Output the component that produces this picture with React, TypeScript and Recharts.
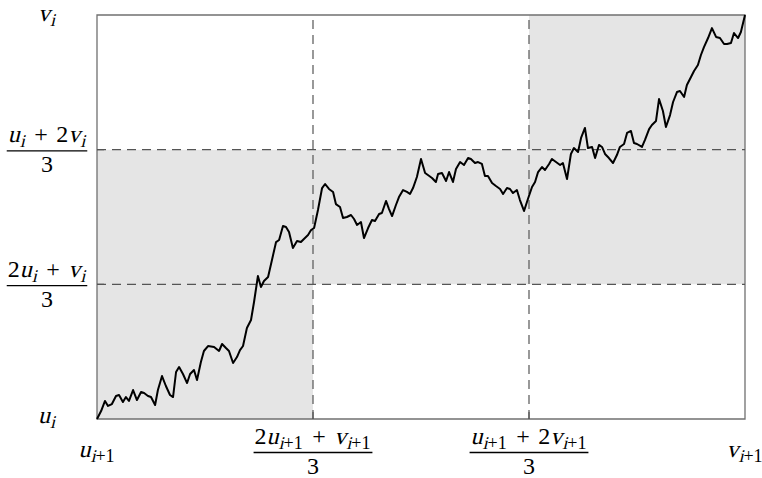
import React from 'react';
import { LineChart, Line, XAxis, YAxis, ReferenceArea, ReferenceLine } from 'recharts';

// Path position along the horizontal interval [u_{i+1}, v_{i+1}], scaled to 0..3
const pathX = [
  0, 0.019, 0.037, 0.051, 0.069, 0.088, 0.102, 0.12, 0.134, 0.148, 0.167, 0.185, 0.204, 0.218, 0.236, 0.25,
  0.269, 0.282, 0.301, 0.319, 0.338, 0.352, 0.366, 0.38, 0.398, 0.417, 0.431, 0.449, 0.463, 0.481, 0.495, 0.514,
  0.542, 0.565, 0.579, 0.597, 0.611, 0.63, 0.648, 0.662, 0.676, 0.694, 0.713, 0.727, 0.745, 0.759, 0.773, 0.792,
  0.81, 0.829, 0.843, 0.861, 0.875, 0.889, 0.907, 0.926, 0.944, 0.958, 0.977, 0.991, 1.005, 1.023, 1.042, 1.056,
  1.074, 1.093, 1.106, 1.125, 1.139, 1.157, 1.176, 1.19, 1.204, 1.222, 1.236, 1.255, 1.273, 1.287, 1.306, 1.319,
  1.338, 1.352, 1.366, 1.384, 1.398, 1.417, 1.435, 1.449, 1.463, 1.481, 1.5, 1.519, 1.532, 1.551, 1.569, 1.579,
  1.597, 1.616, 1.63, 1.648, 1.662, 1.681, 1.699, 1.718, 1.731, 1.75, 1.764, 1.782, 1.796, 1.81, 1.829, 1.847,
  1.866, 1.88, 1.898, 1.912, 1.926, 1.944, 1.958, 1.977, 1.995, 2.014, 2.028, 2.042, 2.06, 2.074, 2.093, 2.106,
  2.125, 2.144, 2.157, 2.176, 2.194, 2.208, 2.227, 2.241, 2.259, 2.273, 2.292, 2.306, 2.324, 2.338, 2.352, 2.37,
  2.389, 2.407, 2.421, 2.44, 2.454, 2.472, 2.486, 2.5, 2.523, 2.537, 2.556, 2.569, 2.588, 2.602, 2.62, 2.634,
  2.653, 2.667, 2.685, 2.699, 2.718, 2.731, 2.75, 2.764, 2.782, 2.796, 2.81, 2.829, 2.847, 2.866, 2.884, 2.903,
  2.917, 2.935, 2.949, 2.968, 2.981, 3,
];

// Path value along the vertical interval [u_i, v_i], scaled to 0..3
const pathY = [
  0, 0.059, 0.134, 0.097, 0.111, 0.171, 0.178, 0.126, 0.163, 0.134, 0.215, 0.141, 0.2, 0.193, 0.171, 0.163,
  0.104, 0.215, 0.319, 0.245, 0.178, 0.163, 0.349, 0.386, 0.334, 0.267, 0.334, 0.364, 0.29, 0.423, 0.505, 0.542,
  0.535, 0.505, 0.557, 0.527, 0.505, 0.416, 0.46, 0.512, 0.542, 0.676, 0.735, 0.869, 1.062, 0.98, 1.025, 1.054,
  1.181, 1.314, 1.329, 1.433, 1.426, 1.389, 1.27, 1.322, 1.314, 1.337, 1.366, 1.403, 1.418, 1.552, 1.715, 1.745,
  1.708, 1.686, 1.596, 1.574, 1.493, 1.5, 1.515, 1.485, 1.441, 1.463, 1.344, 1.418, 1.478, 1.47, 1.522, 1.53,
  1.619, 1.559, 1.507, 1.589, 1.648, 1.7, 1.686, 1.671, 1.715, 1.797, 1.931, 1.827, 1.812, 1.79, 1.76, 1.819,
  1.827, 1.767, 1.834, 1.76, 1.856, 1.908, 1.886, 1.938, 1.931, 1.901, 1.908, 1.894, 1.804, 1.804, 1.752, 1.73,
  1.708, 1.671, 1.715, 1.708, 1.678, 1.7, 1.626, 1.545, 1.634, 1.723, 1.76, 1.834, 1.871, 1.849, 1.894, 1.931,
  1.908, 1.886, 1.901, 1.782, 1.968, 2.012, 1.983, 2.087, 2.161, 2.012, 2.02, 1.938, 2.035, 2.02, 1.968, 1.938,
  1.901, 1.96, 2.02, 2.042, 2.124, 2.139, 2.049, 2.042, 2.02, 2.072, 2.153, 2.183, 2.213, 2.376, 2.287, 2.168,
  2.257, 2.354, 2.428, 2.436, 2.391, 2.48, 2.54, 2.584, 2.629, 2.703, 2.762, 2.829, 2.903, 2.837, 2.829, 2.785,
  2.785, 2.792, 2.866, 2.829, 2.874, 3,
];

const gridTicks = [0, 1, 2, 3];

// Math tokens: 'i' italic, 'r' upright, 'si'/'sr' subscript italic/upright, 'op' binary operator
type Kind = 'i' | 'r' | 'si' | 'sr' | 'op';
type Tok = [string, Kind];
type MathLabel = { num: Tok[]; den?: string };

const xTickLabels: MathLabel[] = [
  { num: [['u', 'i'], ['i', 'si'], ['+1', 'sr']] },
  { num: [['2', 'r'], ['u', 'i'], ['i', 'si'], ['+1', 'sr'], ['+', 'op'], ['v', 'i'], ['i', 'si'], ['+1', 'sr']], den: '3' },
  { num: [['u', 'i'], ['i', 'si'], ['+1', 'sr'], ['+', 'op'], ['2', 'r'], ['v', 'i'], ['i', 'si'], ['+1', 'sr']], den: '3' },
  { num: [['v', 'i'], ['i', 'si'], ['+1', 'sr']] },
];

const yTickLabels: MathLabel[] = [
  { num: [['u', 'i'], ['i', 'si']] },
  { num: [['2', 'r'], ['u', 'i'], ['i', 'si'], ['+', 'op'], ['v', 'i'], ['i', 'si']], den: '3' },
  { num: [['u', 'i'], ['i', 'si'], ['+', 'op'], ['2', 'r'], ['v', 'i'], ['i', 'si']], den: '3' },
  { num: [['v', 'i'], ['i', 'si']] },
];

const data = pathX.map((x, i) => ({ x, y: pathY[i] }));

const MATH_FONT = 'Liberation Serif';
// advance widths (em) of the glyphs used, Times-compatible metrics
const GLYPH_W: Record<string, number> = { u: 0.5, v: 0.5, i: 0.278, '1': 0.5, '2': 0.5, '3': 0.5, '+': 0.564 };
const FONT_SIZE = 24;
const SUB_SIZE = 18;
const SUB_SHIFT = 5;
const OP_GAP = 8.5;
const SCRIPT_SPACE = 1;
const SLANT = -14;
const GRID_COLOR = '#555';
const FRAME_COLOR = '#707070';
const SHADE = '#e5e5e5';
const TICK_LEN = 7;

const isSub = (k: Kind) => k === 'si' || k === 'sr';
const textWidth = (t: string, size: number) =>
  t.split('').reduce((s, c) => s + (GLYPH_W[c] ?? 0.5) * size, 0);

// lay the tokens out on a line, returning glyph runs relative to the start and the total width
function layout(toks: Tok[]) {
  let pos = 0;
  const runs: { t: string; x: number; dy: number; size: number; italic: boolean }[] = [];
  toks.forEach(([t, k], i) => {
    const sub = isSub(k);
    const size = sub ? SUB_SIZE : FONT_SIZE;
    if (k === 'op') pos += OP_GAP;
    runs.push({ t, x: pos, dy: sub ? SUB_SHIFT : 0, size, italic: k === 'i' || k === 'si' });
    pos += textWidth(t, size);
    if (k === 'op') pos += OP_GAP;
    const next = toks[i + 1];
    if (sub && (!next || !isSub(next[1]))) pos += SCRIPT_SPACE;
  });
  return { runs, width: pos };
}

function MathLine({ cx, baseline, toks }: { cx: number; baseline: number; toks: Tok[] }) {
  const { runs, width } = layout(toks);
  const x0 = cx - width / 2;
  return (
    <g>
      {runs.map((r, i) => {
        const px = x0 + r.x;
        const py = baseline + r.dy;
        return r.italic ? (
          <text
            key={i}
            transform={`translate(${px},${py}) skewX(${SLANT})`}
            x={0}
            y={0}
            fontFamily={MATH_FONT}
            fontSize={r.size}
            fill="#000"
          >
            {r.t}
          </text>
        ) : (
          <text key={i} x={px} y={py} fontFamily={MATH_FONT} fontSize={r.size} fill="#000">
            {r.t}
          </text>
        );
      })}
    </g>
  );
}

function MathLabelView({ cx, bar, label, plainBaseline }: { cx: number; bar: number; label: MathLabel; plainBaseline: number }) {
  if (!label.den) {
    return <MathLine cx={cx} baseline={plainBaseline} toks={label.num} />;
  }
  const w = layout(label.num).width;
  return (
    <g>
      <MathLine cx={cx} baseline={bar - 8.5} toks={label.num} />
      <line x1={cx - w / 2 - 1} x2={cx + w / 2 + 1} y1={bar} y2={bar} stroke="#000" strokeWidth={1.3} />
      <text x={cx} y={bar + 21} textAnchor="middle" fontFamily={MATH_FONT} fontSize={FONT_SIZE} fill="#000">
        {label.den}
      </text>
    </g>
  );
}

function XTick(props: any) {
  const { x, y, payload } = props;
  const idx = gridTicks.indexOf(payload.value);
  const label = xTickLabels[idx];
  const inner = payload.value > 0 && payload.value < 3;
  return (
    <g>
      {inner && <line x1={x} x2={x} y1={y} y2={y - TICK_LEN} stroke={GRID_COLOR} strokeWidth={1.2} />}
      <MathLabelView cx={x} bar={y + 33.5} label={label} plainBaseline={y + 38} />
    </g>
  );
}

function YTick(props: any) {
  const { x, y, payload } = props;
  const idx = gridTicks.indexOf(payload.value);
  const label = yTickLabels[idx];
  const inner = payload.value > 0 && payload.value < 3;
  // keep the top label's glyphs clear of the page edge
  const plain = payload.value === 3 ? y + 5.5 : y + 4;
  return (
    <g>
      {inner && <line x1={x} x2={x + TICK_LEN} y1={y} y2={y} stroke={GRID_COLOR} strokeWidth={1.2} />}
      <MathLabelView cx={x - 50} bar={y + 1.3} label={label} plainBaseline={plain} />
    </g>
  );
}

export default function App() {
  return (
    <div style={{ position: 'absolute', left: 0, top: 0, background: '#fff' }}>
      <LineChart width={762} height={478} data={data} margin={{ top: 15, right: 17, bottom: 0, left: 0 }}>
        <XAxis
          type="number"
          dataKey="x"
          domain={[0, 3]}
          ticks={gridTicks}
          interval={0}
          height={59}
          axisLine={false}
          tickLine={false}
          tickSize={0}
          tickMargin={0}
          tick={(p: any) => <XTick {...p} />}
        />
        <YAxis
          type="number"
          domain={[0, 3]}
          ticks={gridTicks}
          interval={0}
          width={97}
          axisLine={false}
          tickLine={false}
          tickSize={0}
          tickMargin={0}
          tick={(p: any) => <YTick {...p} />}
        />
        {/* shaded staircase cells */}
        <ReferenceArea x1={0} x2={1} y1={0} y2={2} fill={SHADE} fillOpacity={1} stroke="none" />
        <ReferenceArea x1={1} x2={3} y1={1} y2={2} fill={SHADE} fillOpacity={1} stroke="none" />
        <ReferenceArea x1={2} x2={3} y1={2} y2={3} fill={SHADE} fillOpacity={1} stroke="none" />
        {/* dashed thirds */}
        <ReferenceLine x={1} stroke={GRID_COLOR} strokeWidth={1.2} strokeDasharray="9 6" />
        <ReferenceLine x={2} stroke={GRID_COLOR} strokeWidth={1.2} strokeDasharray="9 6" />
        <ReferenceLine y={1} stroke={GRID_COLOR} strokeWidth={1.2} strokeDasharray="9 6" />
        <ReferenceLine y={2} stroke={GRID_COLOR} strokeWidth={1.2} strokeDasharray="9 6" />
        {/* plot frame */}
        <ReferenceArea x1={0} x2={3} y1={0} y2={3} fill="none" stroke={FRAME_COLOR} strokeWidth={1.3} />
        <Line
          type="linear"
          dataKey="y"
          stroke="#000"
          strokeWidth={2}
          strokeLinejoin="round"
          dot={false}
          isAnimationActive={false}
        />
      </LineChart>
    </div>
  );
}
